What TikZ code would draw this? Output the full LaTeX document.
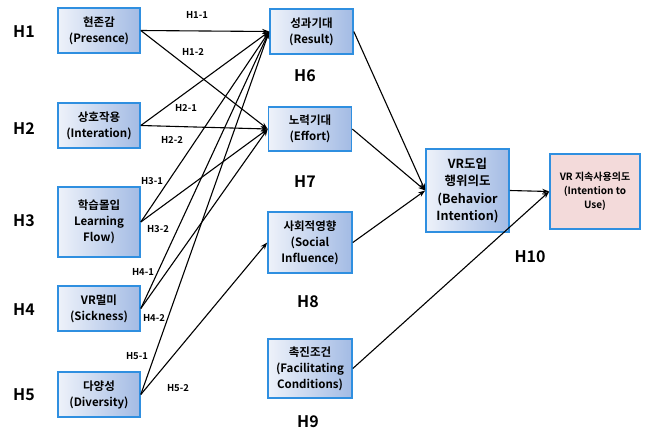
\documentclass[tikz,border=0pt]{standalone}
\usepackage{fontspec}
\setmainfont{Noto Sans CJK KR}[BoldFont=* Bold]
\usetikzlibrary{arrows.meta}
\definecolor{bord}{HTML}{2F8FE0}
\definecolor{fillL}{HTML}{EEF2FA}
\definecolor{fillR}{HTML}{A3BBE4}
\definecolor{pinkf}{HTML}{F3DADA}
\tikzset{
  box/.style={draw=bord, line width=1.6pt, left color=fillL, right color=fillR,
    align=center, inner sep=1pt, font=\bfseries\fontsize{11.5}{16}\selectfont},
  pbox/.style={draw=bord, line width=1.6pt, fill=pinkf,
    align=center, inner sep=1pt, font=\bfseries\fontsize{10}{14}\selectfont},
  hlab/.style={font=\bfseries\fontsize{16}{18}\selectfont},
  elab/.style={font=\bfseries\fontsize{9.5}{11}\selectfont, inner sep=0pt},
  arr/.style={-{Stealth[length=7pt,width=5pt]}, line width=1.1pt, black}
}
\begin{document}
\begin{tikzpicture}[x=1pt,y=-1pt]
\useasboundingbox (0,0) rectangle (645,439);
% left boxes
\node[box, minimum width=82, minimum height=45] (pre) at (99,30.5) {현존감\\(Presence)};
\node[box, minimum width=82, minimum height=45] (int) at (99,125.5) {상호작용\\(Interation)};
\node[box, minimum width=82, minimum height=70] (lea) at (99,222) {학습몰입\\Learning\\Flow)};
\node[box, minimum width=82, minimum height=45] (sic) at (99,308.5) {VR멀미\\(Sickness)};
\node[box, minimum width=82, minimum height=45] (div) at (99,394.5) {다양성\\(Diversity)};
% middle boxes
\node[box, minimum width=83, minimum height=45] (res) at (311.5,31.5) {성과기대\\(Result)};
\node[box, minimum width=83, minimum height=44] (eff) at (310,129) {노력기대\\(Effort)};
\node[box, minimum width=84, minimum height=61] (soc) at (310,242.5) {사회적영향\\(Social\\Influence)};
\node[box, minimum width=84, minimum height=59] (fac) at (310,368.5) {촉진조건\\(Facilitating\\Conditions)};
% right boxes
\node[box, minimum width=83, minimum height=83, font=\bfseries\fontsize{12.5}{17.5}\selectfont] (bi) at (467.5,190.5) {VR도입\\행위의도\\(Behavior\\Intention)};
\node[pbox, minimum width=90, minimum height=75] (iu) at (595,191.5) {VR 지속사용의도\\(Intention to\\Use)};
% H labels
\node[hlab] (h1) at (24,32) {H1};
\node[hlab] (h2) at (24,129) {H2};
\node[hlab] (h3) at (24,221) {H3};
\node[hlab] (h4) at (24,310) {H4};
\node[hlab] (h5) at (24,395) {H5};
\node[hlab] (h6) at (305,76) {H6};
\node[hlab] (h7) at (305,182) {H7};
\node[hlab] (h8) at (308,302) {H8};
\node[hlab] (h9) at (308,422) {H9};
\node[hlab] (h10) at (530,257) {H10};
% edge labels
\node[elab] (l11) at (197,15) {H1-1};
\node[elab] (l12) at (193,52) {H1-2};
\node[elab] (l21) at (186,108) {H2-1};
\node[elab] (l22) at (172,140) {H2-2};
\node[elab] (l31) at (152,181) {H3-1};
\node[elab] (l32) at (158,229) {H3-2};
\node[elab] (l41) at (143,272) {H4-1};
\node[elab] (l42) at (154,318) {H4-2};
\node[elab] (l51) at (137,356) {H5-1};
\node[elab] (l52) at (178,388) {H5-2};
% arrows
\foreach \s in {pre,int,lea,sic,div} \draw[arr] (\s.east) -- (res.west);
\foreach \s in {pre,int,lea,sic} \draw[arr] (\s.east) -- (eff.west);
\draw[arr] (div.east) -- (soc.west);
\draw[arr] (res.east) -- (bi.west);
\draw[arr] (eff.east) -- (bi.west);
\draw[arr] (soc.east) -- (bi.west);
\draw[arr] (bi.east) -- (iu.west);
\draw[arr] (fac.east) -- (iu.west);
\end{tikzpicture}
\end{document}
